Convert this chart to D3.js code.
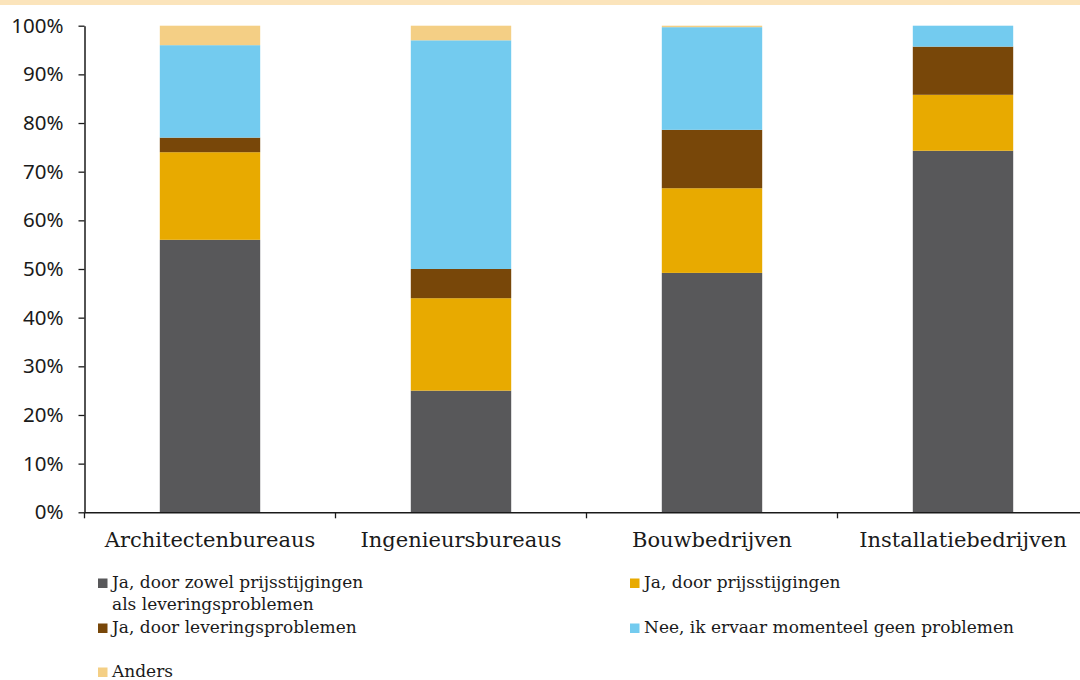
<!DOCTYPE html>
<html><head><meta charset="utf-8">
<script src="https://cdn.jsdelivr.net/npm/d3@7"></script>
<style>
html,body{margin:0;padding:0;background:#fff;}
svg{display:block;}
</style></head>
<body>
<svg id="chart" width="1080" height="680"></svg>
<script>
const categories = ["Architectenbureaus","Ingenieursbureaus","Bouwbedrijven","Installatiebedrijven"];
const seriesNames = ["Ja, door zowel prijsstijgingen als leveringsproblemen","Ja, door prijsstijgingen","Ja, door leveringsproblemen","Nee, ik ervaar momenteel geen problemen","Anders"];
const seriesColors = ["#58585a","#e8aa00","#784709","#73cbef","#f4cf85"];
const bothValues   = [56, 25, 49.2, 74.3];
const priceValues  = [18, 19, 17.4, 11.5];
const supplyValues = [3, 6, 12.0, 9.9];
const noneValues   = [19, 47, 21.1, 4.3];
const otherValues  = [4, 3, 0.3, 0];
const yTicks = [0,10,20,30,40,50,60,70,80,90,100];

const svg = d3.select("#chart");
svg.append("rect").attr("x",0).attr("y",0).attr("width",1080).attr("height",5).attr("fill","#fbe4bb");

const m = {left:84.5, top:25.7, bottom:512.3, right:1088.5};
const x = d3.scaleBand().domain(categories).range([m.left, m.right]).paddingInner(0).paddingOuter(0);
const y = d3.scaleLinear().domain([0,100]).range([m.bottom, m.top]);

const table = categories.map((c,i)=>({cat:c, s0:bothValues[i], s1:priceValues[i], s2:supplyValues[i], s3:noneValues[i], s4:otherValues[i]}));
const keys = ["s0","s1","s2","s3","s4"];
const stack = d3.stack().keys(keys)(table);
const bw = x.bandwidth()*0.4;

svg.append("g").selectAll("g").data(stack).join("g")
  .attr("fill",(d,i)=>seriesColors[i])
  .selectAll("rect").data(d=>d).join("rect")
  .attr("x",d=>x(d.data.cat)+x.bandwidth()/2-bw/2)
  .attr("width",bw)
  .attr("y",d=>y(d[1]))
  .attr("height",d=>Math.max(0,y(d[0])-y(d[1])));

// y axis
const yAxis = svg.append("g").attr("transform",`translate(${m.left},0)`)
  .call(d3.axisLeft(y).tickValues(yTicks).tickFormat(d=>d+"%").tickSize(6).tickSizeOuter(0));
yAxis.select(".domain").attr("stroke","#1a1a1a").attr("stroke-width",1.5);
yAxis.selectAll(".tick line").attr("stroke","#1a1a1a").attr("stroke-width",1.3);
yAxis.selectAll(".tick text").attr("x",-21).attr("font-family","'Noto Sans', sans-serif").attr("font-size",20.5).attr("fill","#1a1a1a");

// x axis
const xAxis = svg.append("g").attr("transform",`translate(0,${m.bottom})`)
  .call(d3.axisBottom(x).tickSize(0).tickSizeOuter(0));
xAxis.select(".domain").attr("stroke","#1a1a1a").attr("stroke-width",1.5);
xAxis.selectAll(".tick text").attr("y",34.5).attr("dy","0").attr("font-family","'DejaVu Serif', serif").attr("font-size",21).attr("fill","#1a1a1a");
// boundary ticks
const bounds = categories.map(c=>x(c)).concat([m.right]);
xAxis.selectAll(".btick").data(bounds).join("line").attr("class","btick")
  .attr("x1",d=>d).attr("x2",d=>d).attr("y1",0).attr("y2",6)
  .attr("stroke","#1a1a1a").attr("stroke-width",1.3);

// legend
const legendItems = [
  {i:0, x:98, y:588, lines:["Ja, door zowel prijsstijgingen","als leveringsproblemen"]},
  {i:1, x:630, y:588, lines:["Ja, door prijsstijgingen"]},
  {i:2, x:98, y:633, lines:["Ja, door leveringsproblemen"]},
  {i:3, x:630, y:633, lines:["Nee, ik ervaar momenteel geen problemen"]},
  {i:4, x:98, y:677, lines:["Anders"]}
];
const lg = svg.append("g").selectAll("g").data(legendItems).join("g");
lg.append("rect").attr("x",d=>d.x).attr("y",d=>d.y-9.5).attr("width",9.5).attr("height",9.5).attr("fill",d=>seriesColors[d.i]);
lg.append("text").attr("x",d=>d.x+14).attr("y",d=>d.y)
  .attr("font-family","'DejaVu Serif', serif").attr("font-size",17).attr("fill","#1a1a1a")
  .selectAll("tspan").data(d=>d.lines.map((l,k)=>({l,k,x:d.x+14}))).join("tspan")
  .attr("x",d=>d.x).attr("dy",d=>d.k?22:0).text(d=>d.l);
</script>
</body></html>
